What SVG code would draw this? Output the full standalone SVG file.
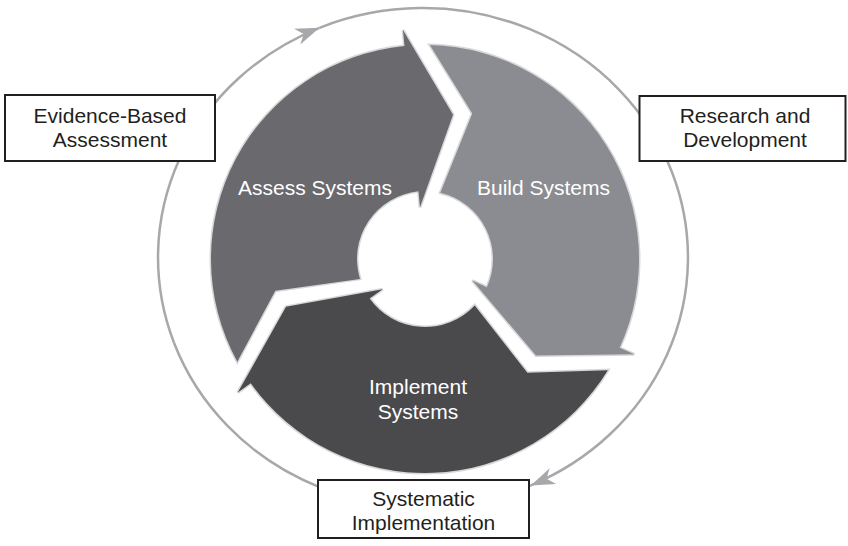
<svg xmlns="http://www.w3.org/2000/svg" xmlns:xlink="http://www.w3.org/1999/xlink" width="848" height="546" viewBox="0 0 848 546">
  <style>
    .ring { fill: none; stroke: #a7a8ab; stroke-width: 2.5; }
    .seg { stroke: #d7d8da; stroke-width: 3; stroke-linejoin: miter; paint-order: stroke; }
    .seg-assess { fill: #69696e; }
    .seg-build { fill: #8b8c91; }
    .seg-implement { fill: #4a4a4d; }
    .seg-label { font-family: "Liberation Sans", Arial, sans-serif; font-size: 21px; fill: #ffffff; text-anchor: middle; }
    .box { fill: #ffffff; stroke: #231f20; stroke-width: 2; }
    .box-label { font-family: "Liberation Sans", Arial, sans-serif; font-size: 21px; fill: #231f20; text-anchor: middle; }
  </style>
  <defs>
    <marker id="ringArrow" markerUnits="userSpaceOnUse" markerWidth="30" markerHeight="24" viewBox="-26 -12 30 24" refX="0" refY="0" orient="auto">
      <path d="M0,0 L-24,-8.5 L-17,0 L-24,8.5 Z" fill="#a7a8ab"/>
    </marker>
    <!-- one cycle segment: annular sector with an arrowhead at its clockwise end
         and a matching notch at its counter-clockwise end; centre (425,259) -->
    <path id="segShape" d="M237.29 361.77 A214 214 0 0 1 404.49 45.98 L402.95 30.06 L453.05 114.70 L420.02 207.24 L418.48 191.31 A68 68 0 0 0 359.97 278.88 L275.34 290.81 Z"/>
  </defs>

  <!-- outer cycle ring with direction arrows -->
  <g id="connectors">
    <path class="ring" d="M174.0 342.8 A265 249.5 0 0 1 319.5 27.8" marker-end="url(#ringArrow)"/>
    <path class="ring" d="M319.5 27.8 A265 249.5 0 0 1 672.0 172.2 A265 249.5 0 0 1 530.8 485.4" marker-end="url(#ringArrow)"/>
    <path class="ring" d="M530.8 485.4 A265 249.5 0 0 1 174.0 342.8"/>
  </g>

  <g id="assess-systems">
    <use xlink:href="#segShape" href="#segShape" class="seg seg-assess"/>
    <text class="seg-label" x="315" y="195">Assess Systems</text>
  </g>

  <g id="build-systems">
    <use xlink:href="#segShape" href="#segShape" class="seg seg-build" transform="rotate(120 425 259)"/>
    <text class="seg-label" x="543.5" y="195">Build Systems</text>
  </g>

  <g id="implement-systems">
    <use xlink:href="#segShape" href="#segShape" class="seg seg-implement" transform="rotate(240 425 259)"/>
    <text class="seg-label" x="418" y="394">Implement</text>
    <text class="seg-label" x="418" y="419">Systems</text>
  </g>

  <g id="evidence-based-assessment">
    <rect class="box" x="5" y="95" width="210" height="66"/>
    <text class="box-label" x="110" y="123">Evidence-Based</text>
    <text class="box-label" x="110" y="147">Assessment</text>
  </g>

  <g id="research-and-development">
    <rect class="box" x="639.5" y="96" width="206" height="65"/>
    <text class="box-label" x="745" y="123">Research and</text>
    <text class="box-label" x="745" y="147">Development</text>
  </g>

  <g id="systematic-implementation">
    <rect class="box" x="318" y="480" width="211" height="58"/>
    <text class="box-label" x="423.5" y="505.5">Systematic</text>
    <text class="box-label" x="423.5" y="530">Implementation</text>
  </g>
</svg>
